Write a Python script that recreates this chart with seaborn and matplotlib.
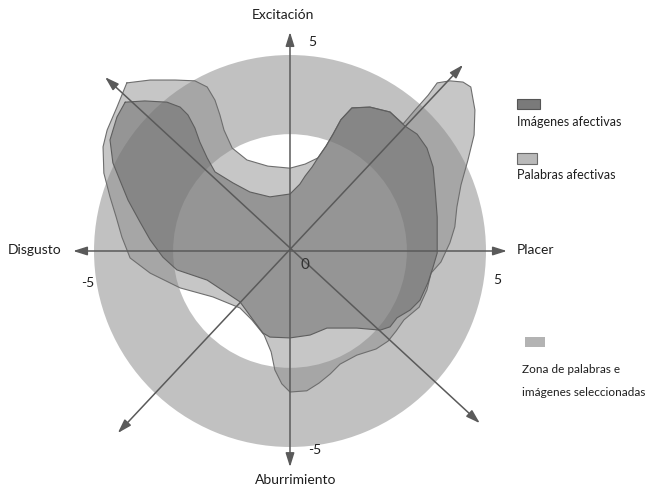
import numpy as np
import pandas as pd
import matplotlib
matplotlib.use("Agg")
import matplotlib.pyplot as plt
from matplotlib.patches import Wedge, Rectangle
import seaborn as sns

# contorno "Palabras afectivas" (valencia, activacion)
pal_x = [-3.98, -3.41, -2.80, -2.32, -2.02, -1.83, -1.71, -1.61, -1.41, -1.05, -0.54, 0.00,
         0.37, 0.68, 0.88, 1.05, 1.24, 1.51, 1.95, 2.44, 2.76, 3.05, 3.37, 3.59, 3.90, 4.22,
         4.41, 4.51, 4.49, 4.34, 4.17, 4.07, 4.02, 3.90, 3.68, 3.44, 3.34, 3.15, 2.78, 2.59,
         2.39, 2.10, 1.63, 1.22, 0.98, 0.71, 0.41, 0.00, -0.20, -0.37, -0.46, -0.63, -0.93,
         -1.22, -1.88, -2.68, -3.41, -3.90, -4.10, -4.24, -4.39, -4.54, -4.56, -4.46, -4.22]
pal_y = [4.10, 4.17, 4.17, 4.15, 4.00, 3.68, 3.32, 2.95, 2.51, 2.22, 2.07, 2.02,
         2.12, 2.27, 2.56, 2.85, 3.20, 3.49, 3.51, 3.39, 3.10, 3.44, 3.80, 4.10, 4.15, 4.12,
         4.00, 3.44, 2.83, 2.22, 1.61, 1.07, 0.59, 0.20, -0.27, -0.54, -0.95, -1.37, -1.68, -1.95,
         -2.20, -2.39, -2.54, -2.76, -3.00, -3.22, -3.41, -3.44, -3.24, -2.90, -2.46, -2.05, -1.68,
         -1.39, -1.12, -0.90, -0.54, -0.17, 0.34, 0.83, 1.32, 1.90, 2.54, 2.95, 3.51]

# contorno "Imagenes afectivas"
img_x = [-4.02, -3.54, -3.00, -2.68, -2.49, -2.32, -2.20, -2.02, -1.83, -1.39, -0.98, -0.49,
         0.00, 0.24, 0.37, 0.54, 0.68, 0.88, 1.05, 1.24, 1.51, 1.95, 2.44, 2.80, 3.10, 3.34,
         3.49, 3.54, 3.59, 3.59, 3.59, 3.49, 3.37, 3.17, 2.93, 2.61, 2.44, 2.20, 1.63, 0.90,
         0.49, 0.00, -0.49, -0.66, -0.90, -1.22, -2.02, -2.76, -3.10, -3.41, -3.66, -3.95,
         -4.15, -4.32, -4.39, -4.22]
img_y = [3.63, 3.66, 3.63, 3.51, 3.32, 3.00, 2.66, 2.27, 1.93, 1.66, 1.44, 1.32,
         1.39, 1.63, 1.83, 2.05, 2.27, 2.56, 2.85, 3.20, 3.49, 3.51, 3.39, 3.05, 2.85, 2.51,
         2.05, 1.49, 0.83, 0.27, -0.05, -0.39, -0.76, -1.20, -1.44, -1.63, -1.85, -1.93, -1.88, -1.88,
         -2.05, -2.12, -2.10, -2.00, -1.68, -1.24, -0.71, -0.46, -0.15, 0.27, 0.71, 1.24,
         1.73, 2.15, 2.71, 3.27]

# zona de palabras e imagenes seleccionadas (anillo)
zona_r = [2.85, 4.78]

# ejes: extremos (inicio, fin)
ejes_x = [(-5.29, 5.29), (0.0, 0.0), (-4.51, 4.63), (-4.20, 4.22)]
ejes_y = [(0.0, 0.0), (-5.27, 5.34), (4.24, -4.20), (-4.44, 4.54)]

etiquetas = ["Excitación", "Aburrimiento", "Disgusto", "Placer"]
ticks = ["5", "-5", "-5", "5", "0"]

sns.set_theme(style="white")
plt.rcParams["font.family"] = ["Lato", "DejaVu Sans"]

fig = plt.figure(figsize=(6.54, 4.86), dpi=100)
ax = fig.add_axes([0, 0, 1, 1])

ring = Wedge((0, 0), zona_r[1], 0, 360, width=zona_r[1] - zona_r[0],
             facecolor="#c1c1c1", edgecolor="none", zorder=1)
ax.add_patch(ring)

pal = pd.DataFrame({"x": pal_x + pal_x[:1], "y": pal_y + pal_y[:1]})
img = pd.DataFrame({"x": img_x + img_x[:1], "y": img_y + img_y[:1]})

ax.fill(pal["x"], pal["y"], color="#8b8b8b", alpha=0.49, lw=0, zorder=2)
sns.lineplot(data=pal, x="x", y="y", sort=False, estimator=None, color="#6e6e6e",
             lw=0.8, ax=ax, zorder=3)
ax.fill(img["x"], img["y"], color="#6b6b6b", alpha=0.53, lw=0, zorder=4)
sns.lineplot(data=img, x="x", y="y", sort=False, estimator=None, color="#5e5e5e",
             lw=0.8, ax=ax, zorder=5)
ax.set_xlim(-7.073, 8.878)
ax.set_ylim(-5.732, 6.122)
ax.axis("off")

for (x0, x1), (y0, y1) in zip(ejes_x, ejes_y):
    ax.annotate("", xy=(x1, y1), xytext=(x0, y0),
                arrowprops=dict(arrowstyle="<|-|>,head_length=0.7,head_width=0.22",
                                color="#5a5a5a", lw=1.1, shrinkA=0, shrinkB=0),
                zorder=6)

fs = 10
tc = "#1e1e1e"
ax.text(-0.17, 5.76, etiquetas[0], ha="center", va="center", fontsize=fs, color=tc)
ax.text(0.15, -5.59, etiquetas[1], ha="center", va="center", fontsize=fs, color=tc)
ax.text(-6.22, 0.02, etiquetas[2], ha="center", va="center", fontsize=fs, color=tc)
ax.text(5.54, 0.02, etiquetas[3], ha="left", va="center", fontsize=fs, color=tc)

ax.text(0.54, 5.10, ticks[0], ha="center", va="center", fontsize=fs, color=tc)
ax.text(0.61, -4.85, ticks[1], ha="center", va="center", fontsize=fs, color=tc)
ax.text(-4.93, -0.78, ticks[2], ha="center", va="center", fontsize=fs, color=tc)
ax.text(5.05, -0.71, ticks[3], ha="center", va="center", fontsize=fs, color=tc)
ax.text(0.37, -0.34, ticks[4], ha="center", va="center", fontsize=11, color="#333333", zorder=7)

# leyenda
ax.add_patch(Rectangle((5.54, 3.46), 0.56, 0.25, facecolor="#7a7a7a", edgecolor="#555555", lw=0.8))
ax.text(5.54, 3.15, "Imágenes afectivas", ha="left", va="center", fontsize=9, color=tc)
ax.add_patch(Rectangle((5.54, 2.12), 0.48, 0.27, facecolor="#b9b9b9", edgecolor="#6a6a6a", lw=0.8))
ax.text(5.54, 1.85, "Palabras afectivas", ha="left", va="center", fontsize=9, color=tc)
ax.add_patch(Rectangle((5.73, -2.34), 0.49, 0.24, facecolor="#b3b3b3", edgecolor="none"))
ax.text(5.66, -2.90, "Zona de palabras e", ha="left", va="center", fontsize=8.5, color=tc)
ax.text(5.66, -3.44, "imágenes seleccionadas", ha="left", va="center", fontsize=8.5, color=tc)

fig.savefig("out.png", dpi=100)
